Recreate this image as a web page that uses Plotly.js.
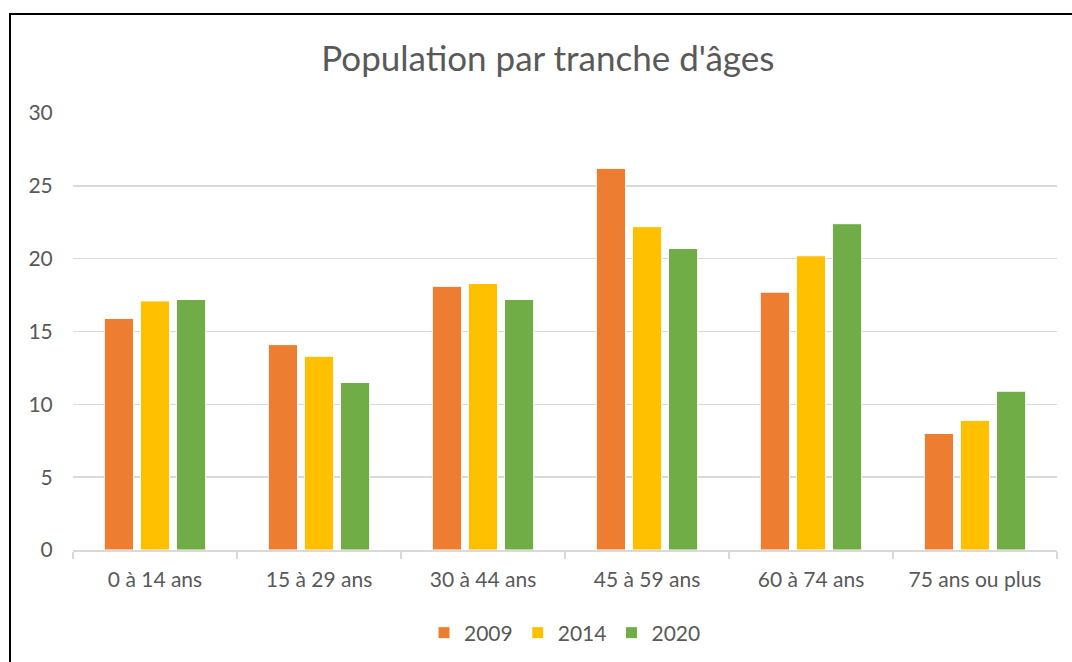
<!DOCTYPE html>
<html>
<head>
<meta charset="utf-8">
<script src="https://cdn.plot.ly/plotly-3.0.1.min.js"></script>
<style>
  html, body { margin: 0; padding: 0; overflow: hidden; background: #fff; }
  #chart { width: 1072px; height: 662px; }
  #frame {
    position: absolute; left: 9px; top: 13px;
    width: 1200px; height: 800px;
    border: 2px solid #000; pointer-events: none;
  }
</style>
</head>
<body>
<div id="chart"></div>
<div id="frame"></div>
<script>
const categories = ['0 à 14 ans', '15 à 29 ans', '30 à 44 ans', '45 à 59 ans', '60 à 74 ans', '75 ans ou plus']
const years = ['2009', '2014', '2020']
const values2009 = [15.9, 14.1, 18.1, 26.2, 17.7, 8.0]
const values2014 = [17.1, 13.3, 18.3, 22.2, 20.2, 8.9]
const values2020 = [17.2, 11.5, 17.2, 20.7, 22.4, 10.9]
const colors = ['#ed7d31', '#ffc000', '#70ad47']

const font = 'Lato, "Open Sans", sans-serif'
const grey = '#595959'

const traces = [values2009, values2014, values2020].map((vals, i) => ({
  type: 'bar',
  name: years[i],
  x: categories,
  y: vals,
  marker: {color: colors[i], line: {color: '#fff', width: 1}},
  hoverinfo: 'none',
}))

const layout = {
  width: 1072,
  height: 662,
  margin: {l: 73, r: 15, t: 113, b: 112, pad: 0, autoexpand: false},
  paper_bgcolor: '#fff',
  plot_bgcolor: '#fff',
  font: {family: font, color: grey, size: 21},
  title: {
    text: "Population par tranche d'âges",
    font: {family: font, size: 35, color: grey},
    x: 0.511,
    xanchor: 'center',
    y: 0.912,
    yanchor: 'middle',
  },
  barmode: 'group',
  bargap: 0.34,
  bargroupgap: 0.19,
  showlegend: true,
  legend: {
    orientation: 'h',
    x: 0.5,
    xanchor: 'center',
    y: -0.19,
    yanchor: 'middle',
    font: {family: font, size: 21, color: grey},
    itemwidth: 30,
    traceorder: 'normal',
  },
  xaxis: {
    type: 'category',
    automargin: false,
    showline: true,
    linecolor: '#d9d9d9',
    linewidth: 1.5,
    ticks: 'outside',
    tickson: 'boundaries',
    ticklen: 7,
    tickcolor: '#d9d9d9',
    tickwidth: 1.5,
    ticklabelstandoff: 10,
    tickfont: {family: font, size: 21, color: grey},
    showgrid: false,
    fixedrange: true,
  },
  yaxis: {
    range: [0, 30],
    dtick: 5,
    automargin: false,
    showgrid: true,
    gridcolor: '#d9d9d9',
    gridwidth: 1.5,
    zeroline: false,
    showline: false,
    ticks: 'outside',
    ticklen: 15,
    tickcolor: 'rgba(0,0,0,0)',
    tickfont: {family: font, size: 21, color: grey},
    fixedrange: true,
  },
}

Plotly.newPlot('chart', traces, layout, {displayModeBar: false, staticPlot: true})
</script>
</body>
</html>
